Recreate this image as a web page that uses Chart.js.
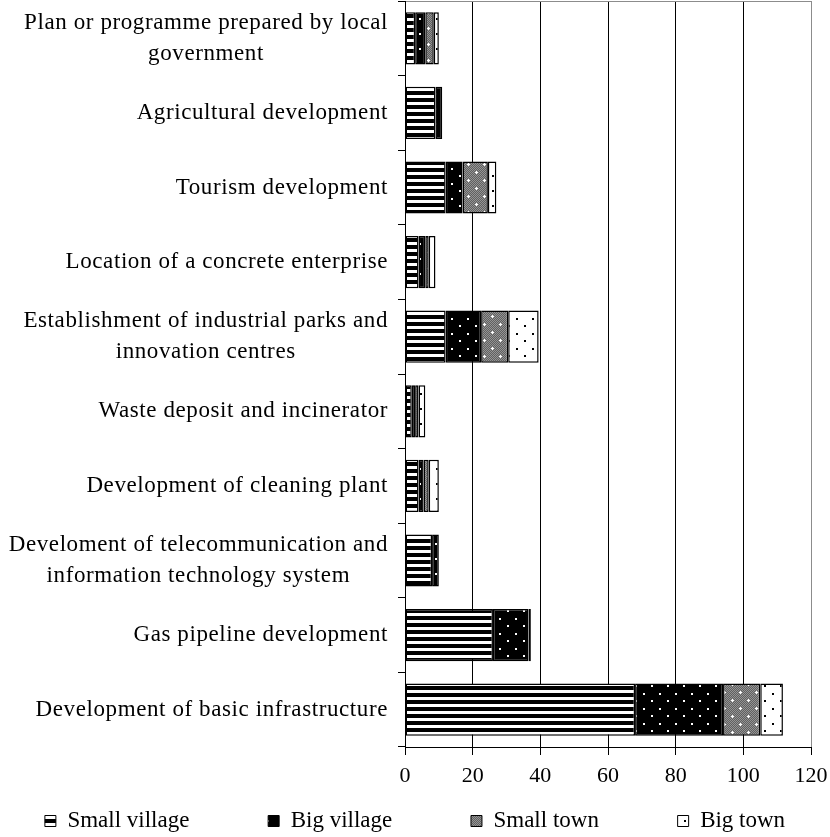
<!DOCTYPE html>
<html>
<head>
<meta charset="utf-8">
<script src="https://cdn.jsdelivr.net/npm/chart.js@4.4.1/dist/chart.umd.min.js"></script>
<style>
  html, body { margin: 0; padding: 0; background: #fff; }
  #wrap { width: 830px; height: 837px; }
</style>
</head>
<body>
<div id="wrap"><canvas id="chart"></canvas></div>
<script>
// ---------- DATI ----------
const categories = [
  ['Plan or programme prepared by local', 'government'],
  'Agricultural development',
  'Tourism development',
  'Location of a concrete enterprise',
  ['Establishment of industrial parks and', 'innovation centres'],
  'Waste deposit and incinerator',
  'Development of cleaning plant',
  ['Develoment of telecommunication and', 'information technology system'],
  'Gas pipeline development',
  'Development of basic infrastructure'
];
const smallVillage = [3, 9, 12, 4, 12, 2, 4, 8, 26, 68];
const bigVillage   = [3, 2, 5, 2, 10.5, 1, 1.5, 2, 10.5, 26];
const smallTown    = [2.5, 0, 7.5, 1, 8, 1, 1.5, 0, 0.7, 11];
const bigTown      = [1.5, 0, 2.5, 2, 9, 2, 3, 0, 0, 6.7];
const seriesNames  = ['Small village', 'Big village', 'Small town', 'Big town'];
const xTicks       = [0, 20, 40, 60, 80, 100, 120];

const FONT = '"Liberation Serif", "Times New Roman", serif';

// ---------- PATTERN ----------
function makePattern(w, h, draw) {
  const c = document.createElement('canvas');
  c.width = w; c.height = h;
  const g = c.getContext('2d');
  draw(g, w, h);
  return g.createPattern(c, 'repeat');
}

// righe orizzontali
const pStripes = makePattern(8, 7, (g, w, h) => {
  g.fillStyle = '#fff'; g.fillRect(0, 0, w, h);
  g.fillStyle = '#000'; g.fillRect(0, 0, w, 4);
});
// nero con puntini bianchi
const pBlackDots = makePattern(16, 15, (g, w, h) => {
  g.fillStyle = '#000'; g.fillRect(0, 0, w, h);
  g.fillStyle = '#fff';
  g.fillRect(3, 3, 2, 2);
  g.fillRect(11, 10, 2, 2);
});
// grigio retinato con crocette bianche
const pGrey = makePattern(16, 16, (g, w, h) => {
  g.fillStyle = '#949494'; g.fillRect(0, 0, w, h);
  g.fillStyle = '#606060';
  for (let y = 0; y < h; y++) for (let x = 0; x < w; x++) if ((x + y) % 2) g.fillRect(x, y, 1, 1);
  g.fillStyle = '#fff';
  [[4, 4], [12, 12]].forEach(([x, y]) => { g.fillRect(x - 1, y, 3, 1); g.fillRect(x, y - 1, 1, 3); });
});
// bianco con puntini neri
const pWhiteDots = makePattern(16, 15, (g, w, h) => {
  g.fillStyle = '#fff'; g.fillRect(0, 0, w, h);
  g.fillStyle = '#000';
  g.fillRect(4, 3, 2, 2);
  g.fillRect(12, 10, 2, 2);
});

const fills = [pStripes, pBlackDots, pGrey, pWhiteDots];
const values = [smallVillage, bigVillage, smallTown, bigTown];

// spazi in coda: con un padding grande Chart.js manderebbe a capo la legenda
const legendGap = ' '.repeat(11);

// ---------- ETICHETTE CATEGORIE (blocco centrato, allineato a destra) ----------
function drawCategoryLabels(scale) {
  const ctx = scale.ctx;
  const right = scale.right - 17;
  ctx.save();
  ctx.font = '23px ' + FONT;
  ctx.letterSpacing = '0.6px';
  ctx.fillStyle = '#000';
  ctx.textAlign = 'center';
  ctx.textBaseline = 'middle';
  scale.ticks.forEach((t, i) => {
    const lines = [].concat(t.label);
    const w = Math.max(...lines.map(l => ctx.measureText(l).width));
    const cx = right - w / 2;
    const y = scale.getPixelForTick(i);
    lines.forEach((l, j) => ctx.fillText(l, cx, y + (j - (lines.length - 1) / 2) * 31));
  });
  ctx.restore();
}

const labelPlugin = {
  id: 'catLabels',
  beforeDraw(chart) {
    const s = chart.scales.y;
    if (s && !s._patched) {
      s.drawLabels = function () { drawCategoryLabels(this); };
      s._patched = true;
    }
  }
};

// ---------- GRAFICO ----------
new Chart(document.getElementById('chart'), {
  type: 'bar',
  data: {
    labels: categories,
    datasets: seriesNames.map((name, i) => ({
      label: name,
      data: values[i],
      backgroundColor: fills[i],
      borderColor: '#000',
      borderWidth: 1.5,
      borderSkipped: false,
      barPercentage: 0.7,
      categoryPercentage: 1
    }))
  },
  options: {
    indexAxis: 'y',
    responsive: true,
    maintainAspectRatio: false,
    animation: false,
    layout: { padding: { left: 0, right: 0, top: 1, bottom: -5.5 } },
    scales: {
      x: {
        stacked: true,
        min: 0,
        max: 120,
        afterBuildTicks: s => { s.ticks = xTicks.map(v => ({ value: v })); },
        grid: {
          color: c => (c.tick && c.tick.value === 120 ? '#8c8c8c' : '#000'),
          tickColor: '#000',
          lineWidth: 1,
          tickLength: 8
        },
        border: { color: '#000', width: 1 },
        ticks: { color: '#000', font: { family: FONT, size: 22 }, padding: 8, maxRotation: 0 },
        afterFit: s => { s.height = 47; s.paddingLeft = 0; s.paddingRight = 19; }
      },
      x2: {
        position: 'top',
        min: 0,
        max: 120,
        grid: { display: false, drawTicks: false },
        ticks: { display: false },
        border: { color: '#8c8c8c', width: 1 }
      },
      y: {
        stacked: true,
        grid: { drawOnChartArea: false, color: '#000', tickLength: 7, offset: true },
        border: { color: '#000', width: 1 },
        ticks: { color: '#000', font: { family: FONT, size: 4 } },
        afterFit: s => { s.width = 405; s.paddingTop = 0; s.paddingBottom = 0; }
      }
    },
    plugins: {
      tooltip: { enabled: false },
      legend: {
        position: 'bottom',
        align: 'center',
        labels: {
          boxWidth: 11,
          boxHeight: 11,
          padding: 15.5,
          color: '#000',
          font: { family: FONT, size: 23 },
          generateLabels: chart =>
            Chart.defaults.plugins.legend.labels.generateLabels(chart)
              .map((l, i) => Object.assign(l, { text: l.text + (i < 3 ? legendGap : ''), lineWidth: 1 }))
        }
      }
    }
  },
  plugins: [labelPlugin]
});
</script>
</body>
</html>
